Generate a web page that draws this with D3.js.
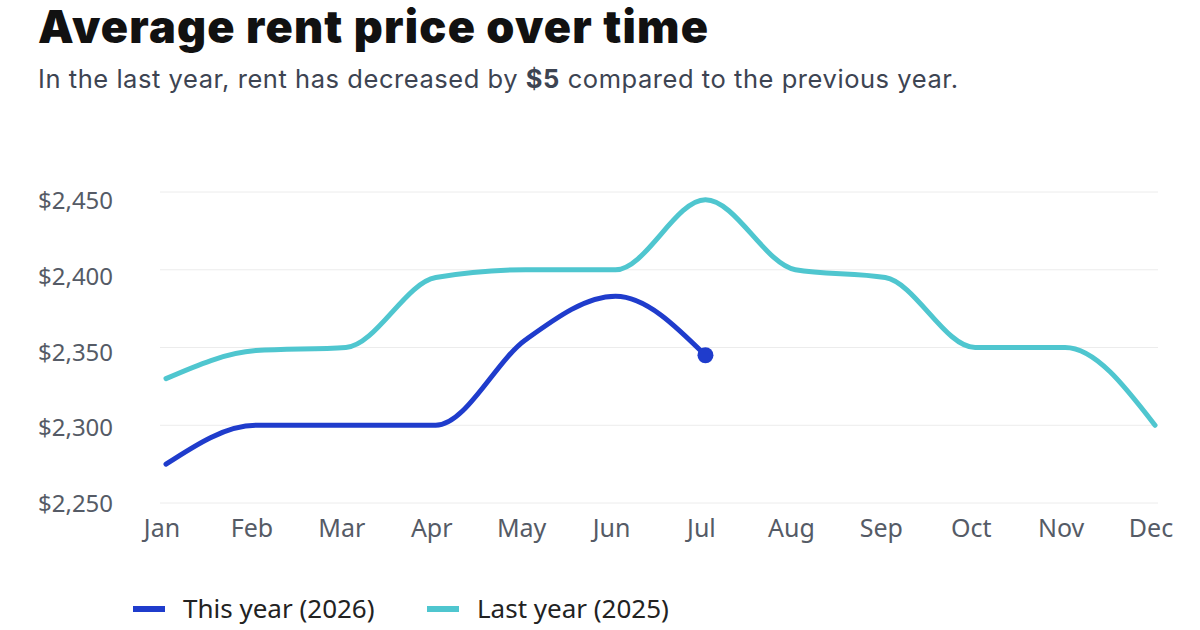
<!DOCTYPE html>
<html><head><meta charset="utf-8">
<script src="https://cdn.jsdelivr.net/npm/d3@7"></script>
<style>
body{margin:0;background:#fff;font-family:"Noto Sans",sans-serif}
</style></head>
<body><svg id="chart" width="1200" height="630"></svg>
<script>
let months = ['Jan','Feb','Mar','Apr','May','Jun','Jul','Aug','Sep','Oct','Nov','Dec']
let lastYear = [2330,2348,2350,2395,2400,2400,2445,2400,2395,2350,2350,2300]
let thisYear = [2275,2300,2300,2300,2355,2383,2345]
let yTicks = [2250,2300,2350,2400,2450]

let svg = d3.select('#chart')

svg.append('text').attr('x',38).attr('y',43)
   .attr('font-family','Inter').attr('font-size',45).attr('font-weight',900).attr('fill','#111')
   .attr('letter-spacing','-1').attr('textLength',669).text('Average rent price over time')

let sub = svg.append('text').attr('x',38).attr('y',88)
   .attr('font-family','Inter').attr('font-size',25.5).attr('fill','#3d4452')
   .attr('letter-spacing','0.55')
sub.append('tspan').text('In the last year, rent has decreased by ')
sub.append('tspan').attr('font-weight',700).text('$5')
sub.append('tspan').text(' compared to the previous year.')

let x = d3.scalePoint().domain(months).range([166,1155])
let y = d3.scaleLinear().domain([2250,2450]).range([503,192])
let yLabel = d3.scaleLinear().domain([2250,2450]).range([503,200])

svg.selectAll('line.grid').data(yTicks).enter().append('line')
   .attr('x1',160).attr('x2',1158)
   .attr('y1',d=>y(d)).attr('y2',d=>y(d))
   .attr('stroke','#ececec').attr('stroke-width',1)

svg.selectAll('text.ytick').data(yTicks).enter().append('text')
   .attr('x',38).attr('y',d=>yLabel(d)+9)
   .attr('font-size',24).attr('fill','#555b66')
   .text(d=>'$'+d3.format(',')(d))

svg.selectAll('text.xtick').data(months).enter().append('text')
   .attr('x',d=>x(d)-4).attr('y',537).attr('text-anchor','middle')
   .attr('font-size',25).attr('fill','#555b66').text(d=>d)

let line = d3.line().x((d,i)=>x(months[i])).y(d=>y(d)).curve(d3.curveMonotoneX)

svg.append('path').attr('d',line(lastYear)).attr('fill','none')
   .attr('stroke','#4fc6cf').attr('stroke-width',5).attr('stroke-linecap','round')
svg.append('path').attr('d',line(thisYear)).attr('fill','none')
   .attr('stroke','#1f3ccc').attr('stroke-width',5).attr('stroke-linecap','round')
svg.append('circle').attr('cx',x(months[thisYear.length-1])).attr('cy',y(thisYear[thisYear.length-1]))
   .attr('r',8).attr('fill','#1f3ccc')

let legend = [['This year (2026)','#1f3ccc',133],['Last year (2025)','#4fc6cf',427]]
legend.forEach(l=>{
  svg.append('line').attr('x1',l[2]).attr('x2',l[2]+32).attr('y1',609).attr('y2',609)
     .attr('stroke',l[1]).attr('stroke-width',6)
  svg.append('text').attr('x',l[2]+50).attr('y',618).attr('font-size',26)
     .attr('fill','#222').text(l[0])
})
</script></body></html>
